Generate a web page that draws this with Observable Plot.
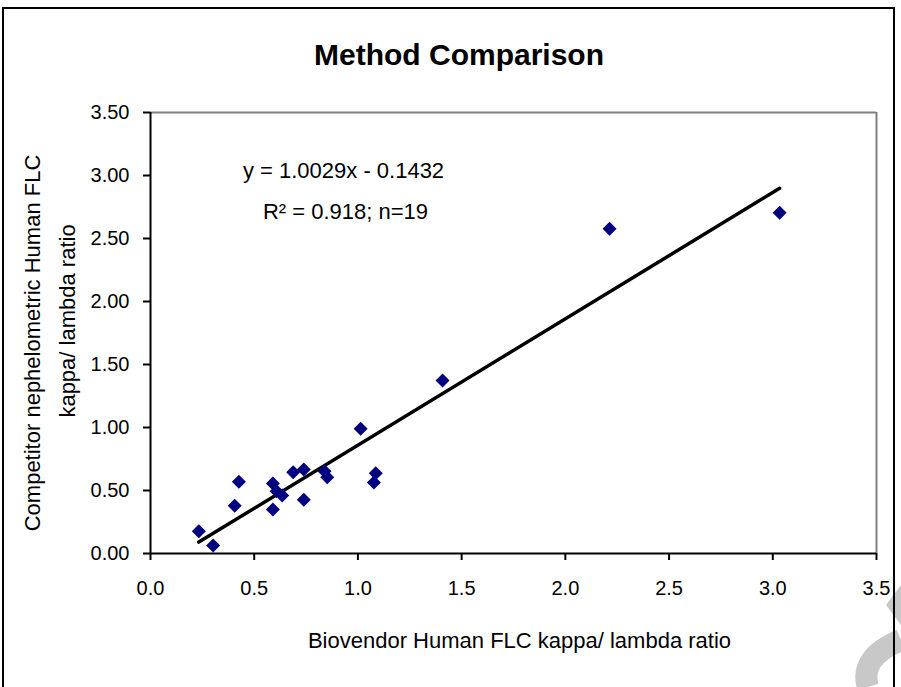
<!DOCTYPE html>
<html>
<head>
<meta charset="utf-8">
<script src="https://cdn.jsdelivr.net/npm/d3@7"></script>
<script src="https://cdn.jsdelivr.net/npm/@observablehq/plot@0.6"></script>
<style>
  html, body { margin: 0; padding: 0; background: #fff; }
  #wrap { position: relative; width: 901px; height: 687px; overflow: hidden; font-family: "Liberation Sans", Arial, sans-serif; }
  #frame { position: absolute; left: 2px; top: 7px; width: 893px; height: 700px; border: 2px solid #000; box-sizing: border-box; pointer-events: none; }
  #title { position: absolute; left: 0; top: 38px; width: 918px; text-align: center; font-size: 30px; font-weight: bold; color: #000; }
  #chart { position: absolute; left: 0; top: 0; }
  #wm { position: absolute; left: 0; top: 0; }
</style>
</head>
<body>
<div id="wrap">
  <svg id="wm" width="901" height="687">
    <path d="M901 585 L886 605 L901 625 Z" fill="#c8c8c8"/>
    <path d="M868 687 C 862 668, 872 652, 901 640" stroke="#c8c8c8" stroke-width="22" fill="none"/>
  </svg>
  <div id="chart"></div>
  <div id="title">Method Comparison</div>
  <div id="frame"></div>
</div>
<script>
// Data
const biovendor  = [0.233, 0.302, 0.406, 0.426, 0.590, 0.590, 0.608, 0.635, 0.688, 0.739, 0.739, 0.839, 0.852, 1.013, 1.086, 1.077, 1.408, 2.213, 3.033];
const competitor = [0.177, 0.063, 0.379, 0.569, 0.556, 0.349, 0.494, 0.460, 0.645, 0.667, 0.426, 0.653, 0.606, 0.990, 0.637, 0.563, 1.373, 2.577, 2.704];
const slope = 1.0029;
const intercept = -0.1432;
const xTicks = [0, 0.5, 1.0, 1.5, 2.0, 2.5, 3.0, 3.5];
const yTicks = [0, 0.5, 1.0, 1.5, 2.0, 2.5, 3.0, 3.5];
const equationText = "y = 1.0029x - 0.1432";
const r2Text = "R² = 0.918; n=19";
const xLabel = "Biovendor Human FLC kappa/ lambda ratio";
const yLabel1 = "Competitor nephelometric Human FLC";
const yLabel2 = "kappa/ lambda ratio";

const points = biovendor.map((x, i) => ({x, y: competitor[i]}));
const xExtent = d3.extent(biovendor);
const fitLine = xExtent.map(x => ({x, y: slope * x + intercept}));

const font = "'Liberation Sans', Arial, sans-serif";

const chart = Plot.plot({
  width: 901,
  height: 687,
  marginLeft: 150,
  marginRight: 25,
  marginTop: 112,
  marginBottom: 134,
  x: {domain: [0, 3.5]},
  y: {domain: [0, 3.5]},
  style: {fontFamily: font, fontSize: "20px", color: "#000", background: "transparent", overflow: "visible"},
  marks: [
    Plot.ruleY([3.5], {stroke: "#808080", strokeWidth: 2}),
    Plot.ruleX([3.5], {stroke: "#808080", strokeWidth: 2}),
    Plot.axisX({ticks: xTicks, tickFormat: d3.format(".1f"), tickSize: 7, tickPadding: 20, label: null, fontSize: 20, strokeWidth: 2}),
    Plot.axisY({ticks: yTicks, tickFormat: d3.format(".2f"), tickSize: 7, tickPadding: 14, label: null, fontSize: 20, strokeWidth: 2}),
    Plot.ruleX([0], {stroke: "#000", strokeWidth: 2}),
    Plot.ruleY([0], {stroke: "#000", strokeWidth: 2}),
    Plot.line(fitLine, {x: "x", y: "y", stroke: "#000", strokeWidth: 3.5}),
    Plot.dot(points, {x: "x", y: "y", symbol: "diamond2", fill: "#000080", stroke: "none", r: 6.3}),
    Plot.text([equationText], {frameAnchor: "top-left", dx: 193, dy: 58, fontSize: 22, textAnchor: "middle", lineAnchor: "middle", fill: "#000"}),
    Plot.text([r2Text], {frameAnchor: "top-left", dx: 195, dy: 99, fontSize: 22, textAnchor: "middle", lineAnchor: "middle", fill: "#000"}),
    Plot.text([xLabel], {frameAnchor: "bottom", dx: 6, dy: 87, fontSize: 22, textAnchor: "middle", lineAnchor: "middle", fill: "#000"}),
    Plot.text([yLabel1], {frameAnchor: "left", dx: -118, dy: 10, rotate: -90, fontSize: 22, textAnchor: "middle", lineAnchor: "middle", fill: "#000"}),
    Plot.text([yLabel2], {frameAnchor: "left", dx: -83, dy: -12, rotate: -90, fontSize: 22, textAnchor: "middle", lineAnchor: "middle", fill: "#000"})
  ]
});
document.getElementById("chart").appendChild(chart);
</script>
</body>
</html>
